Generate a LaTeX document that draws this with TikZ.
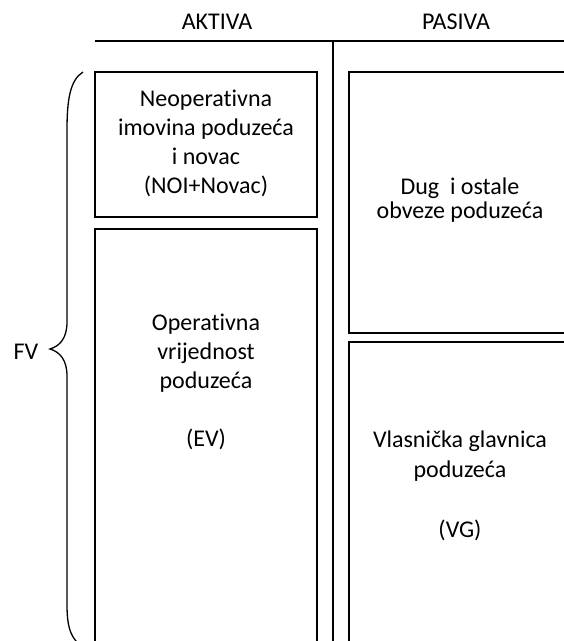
\documentclass[tikz,border=0pt]{standalone}
\usepackage{fontspec}
\setmainfont{Carlito}[Ligatures=NoCommon]

\begin{document}
\begin{tikzpicture}[x=1pt,y=-1pt,
  box/.style={line width=1.2pt},
  rule/.style={line width=1.6pt},
  lbl/.style={font=\fontsize{24}{29}\selectfont, align=center, inner sep=0pt}]
  \def\lx{95};
  \def\lxx{317};
  \def\mx{333};
  \def\rx{349};
  \def\rxx{600};
  \def\hy{41};
  \def\ty{72};
  \def\by{700};
  \clip (0,0) rectangle (564,641);
  \draw[rule] (\lx,\hy)--(\rxx,\hy);
  \draw[rule] (\mx,\hy)--(\mx,\by);
  \draw[box] (\lx,\ty) rectangle (\lxx,217);
  \draw[box] (\lx,229) rectangle (\lxx,\by);
  \draw[box] (\rx,\ty) rectangle (\rxx,333);
  \draw[box] (\rx,342) rectangle (\rxx,\by);
  %brace
  \draw[line width=1.3pt] (83,\ty) .. controls (70,80) and (67,100) .. (67,130) -- (67,322)
    .. controls (67,338) and (60,346) .. (50,349) .. controls (60,352) and (67,360) .. (67,376)
    -- (67,605) .. controls (67,630) and (72,640) .. (84,648);
  \node[lbl, anchor=base] (aktiva) at (217,29) {AKTIVA};
  \node[lbl, anchor=base] (pasiva) at (456,29) {PASIVA};
  \node[lbl] (noi) at (206,143) {Neoperativna\\imovina poduzeća\\i novac\\(NOI+Novac)};
  \node[lbl] (ev) at (206,382) {Operativna\\vrijednost\\poduzeća\\[29pt](EV)};
  \node[lbl, font=\fontsize{24}{24}\selectfont] (dug) at (460,200) {Dug\ \ i ostale\\obveze poduzeća};
  \node[lbl, font=\fontsize{24}{30}\selectfont] (vg) at (460,486) {Vlasnička glavnica\\poduzeća\\[30pt](VG)};
  \node[lbl, anchor=base] (fv) at (26,359) {FV};
\end{tikzpicture}
\end{document}
